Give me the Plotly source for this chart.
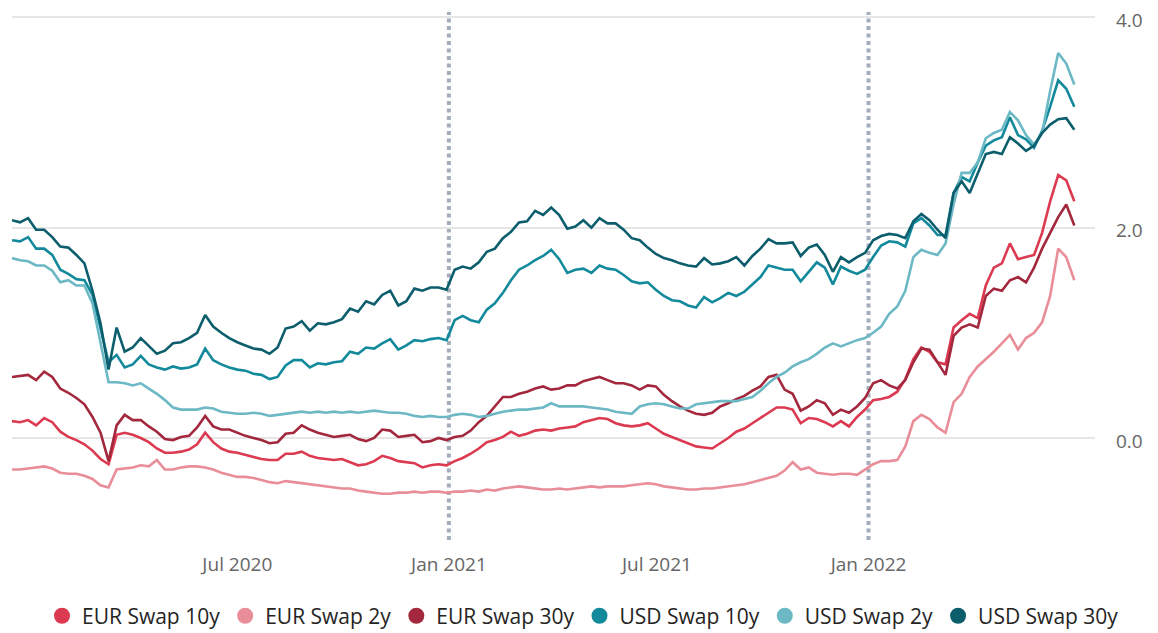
import pandas as pd
import plotly.graph_objects as go

dates = pd.date_range("2019-12-18", periods=133, freq="7D")

eur_10y = [
    0.16, 0.15, 0.17, 0.12, 0.19, 0.15, 0.06, 0.01, -0.02, -0.06,
    -0.12, -0.20, -0.25, 0.03, 0.05, 0.03, 0.00, -0.04, -0.10, -0.14,
    -0.14, -0.13, -0.11, -0.06, 0.05, -0.04, -0.10, -0.13, -0.14, -0.16,
    -0.18, -0.20, -0.21, -0.21, -0.15, -0.15, -0.13, -0.17, -0.19, -0.20,
    -0.21, -0.20, -0.23, -0.26, -0.25, -0.22, -0.17, -0.19, -0.22, -0.23,
    -0.24, -0.28, -0.26, -0.25, -0.26, -0.22, -0.19, -0.15, -0.10, -0.04,
    -0.02, 0.01, 0.06, 0.02, 0.04, 0.07, 0.08, 0.07, 0.09, 0.10,
    0.11, 0.15, 0.17, 0.19, 0.18, 0.14, 0.12, 0.11, 0.12, 0.14,
    0.09, 0.04, 0.01, -0.02, -0.05, -0.08, -0.09, -0.10, -0.05, 0.00,
    0.06, 0.09, 0.14, 0.19, 0.24, 0.29, 0.29, 0.27, 0.14, 0.19,
    0.18, 0.15, 0.11, 0.16, 0.11, 0.20, 0.27, 0.36, 0.37, 0.39,
    0.44, 0.56, 0.75, 0.86, 0.82, 0.72, 0.70, 1.05, 1.12, 1.18,
    1.14, 1.45, 1.62, 1.66, 1.85, 1.70, 1.72, 1.74, 1.95, 2.25,
    2.50, 2.45, 2.25,
]

eur_2y = [
    -0.30, -0.30, -0.29, -0.28, -0.27, -0.29, -0.33, -0.34, -0.34, -0.36,
    -0.39, -0.45, -0.47, -0.30, -0.29, -0.28, -0.26, -0.27, -0.21, -0.30,
    -0.30, -0.28, -0.27, -0.27, -0.28, -0.30, -0.33, -0.35, -0.37, -0.37,
    -0.38, -0.40, -0.42, -0.43, -0.41, -0.42, -0.43, -0.44, -0.45, -0.46,
    -0.47, -0.48, -0.48, -0.50, -0.51, -0.52, -0.53, -0.53, -0.52, -0.52,
    -0.51, -0.52, -0.51, -0.51, -0.52, -0.51, -0.51, -0.50, -0.51, -0.49,
    -0.50, -0.48, -0.47, -0.46, -0.47, -0.48, -0.49, -0.49, -0.48, -0.49,
    -0.48, -0.47, -0.46, -0.47, -0.46, -0.46, -0.46, -0.45, -0.44, -0.43,
    -0.44, -0.46, -0.47, -0.48, -0.49, -0.49, -0.48, -0.48, -0.47, -0.46,
    -0.45, -0.44, -0.42, -0.40, -0.38, -0.36, -0.31, -0.23, -0.30, -0.28,
    -0.33, -0.34, -0.35, -0.34, -0.34, -0.35, -0.30, -0.25, -0.22, -0.22,
    -0.21, -0.08, 0.16, 0.22, 0.18, 0.10, 0.05, 0.34, 0.42, 0.58,
    0.68, 0.75, 0.82, 0.90, 0.98, 0.84, 0.95, 1.00, 1.10, 1.35,
    1.80, 1.72, 1.50,
]

eur_30y = [
    0.58, 0.59, 0.60, 0.55, 0.63, 0.58, 0.47, 0.43, 0.38, 0.32,
    0.20, 0.05, -0.22, 0.12, 0.22, 0.17, 0.17, 0.11, 0.06, -0.01,
    -0.02, 0.01, 0.02, 0.10, 0.21, 0.11, 0.08, 0.08, 0.05, 0.02,
    0.00, -0.02, -0.05, -0.04, 0.04, 0.05, 0.12, 0.08, 0.05, 0.03,
    0.01, 0.02, 0.03, -0.01, -0.03, 0.00, 0.08, 0.07, 0.01, 0.02,
    0.03, -0.04, -0.03, 0.00, -0.02, 0.01, 0.02, 0.07, 0.15, 0.21,
    0.30, 0.39, 0.39, 0.42, 0.44, 0.47, 0.49, 0.46, 0.47, 0.50,
    0.50, 0.54, 0.56, 0.58, 0.55, 0.52, 0.52, 0.50, 0.46, 0.50,
    0.49, 0.41, 0.35, 0.30, 0.26, 0.23, 0.22, 0.24, 0.30, 0.33,
    0.37, 0.40, 0.45, 0.49, 0.58, 0.60, 0.46, 0.42, 0.26, 0.30,
    0.36, 0.33, 0.22, 0.27, 0.24, 0.30, 0.38, 0.52, 0.55, 0.50,
    0.47, 0.55, 0.72, 0.85, 0.84, 0.72, 0.60, 0.97, 1.05, 1.08,
    1.05, 1.35, 1.42, 1.40, 1.50, 1.53, 1.48, 1.62, 1.80, 1.95,
    2.10, 2.22, 2.02,
]

usd_10y = [
    1.88, 1.87, 1.91, 1.80, 1.80, 1.74, 1.60, 1.56, 1.51, 1.50,
    1.36, 1.05, 0.72, 0.79, 0.67, 0.70, 0.78, 0.70, 0.67, 0.65,
    0.68, 0.66, 0.67, 0.70, 0.85, 0.74, 0.70, 0.67, 0.65, 0.64,
    0.61, 0.60, 0.56, 0.58, 0.69, 0.74, 0.74, 0.67, 0.71, 0.70,
    0.72, 0.73, 0.82, 0.80, 0.86, 0.85, 0.90, 0.94, 0.84, 0.88,
    0.93, 0.92, 0.94, 0.95, 0.93, 1.12, 1.16, 1.12, 1.10, 1.22,
    1.28, 1.38, 1.50, 1.60, 1.64, 1.69, 1.73, 1.79, 1.70, 1.57,
    1.60, 1.61, 1.57, 1.64, 1.61, 1.60, 1.55, 1.49, 1.47, 1.48,
    1.41, 1.35, 1.31, 1.30, 1.26, 1.24, 1.34, 1.29, 1.33, 1.38,
    1.35, 1.39, 1.46, 1.53, 1.64, 1.62, 1.60, 1.60, 1.49, 1.58,
    1.67, 1.62, 1.46, 1.63, 1.59, 1.56, 1.60, 1.72, 1.83, 1.87,
    1.86, 1.82, 2.04, 2.09, 2.02, 1.93, 1.93, 2.33, 2.48, 2.44,
    2.62, 2.78, 2.83, 2.86, 3.05, 2.88, 2.84, 2.76, 2.92, 3.15,
    3.40, 3.32, 3.15,
]

usd_2y = [
    1.71, 1.69, 1.68, 1.64, 1.64, 1.59, 1.48, 1.50, 1.45, 1.45,
    1.28, 0.90, 0.53, 0.53, 0.52, 0.50, 0.52, 0.47, 0.42, 0.36,
    0.29, 0.27, 0.27, 0.27, 0.29, 0.28, 0.25, 0.24, 0.23, 0.23,
    0.24, 0.23, 0.21, 0.22, 0.23, 0.24, 0.25, 0.24, 0.25, 0.24,
    0.25, 0.24, 0.25, 0.24, 0.25, 0.26, 0.25, 0.24, 0.24, 0.23,
    0.21, 0.20, 0.21, 0.20, 0.20, 0.22, 0.23, 0.22, 0.20, 0.21,
    0.23, 0.25, 0.26, 0.27, 0.27, 0.28, 0.29, 0.33, 0.30, 0.30,
    0.30, 0.30, 0.29, 0.28, 0.27, 0.25, 0.24, 0.23, 0.30, 0.32,
    0.33, 0.32, 0.30, 0.28, 0.28, 0.32, 0.33, 0.34, 0.35, 0.35,
    0.35, 0.37, 0.39, 0.45, 0.52, 0.58, 0.62, 0.68, 0.72, 0.75,
    0.80, 0.86, 0.90, 0.87, 0.90, 0.93, 0.95, 1.00, 1.06, 1.18,
    1.25, 1.40, 1.72, 1.79, 1.76, 1.74, 1.85, 2.22, 2.52, 2.52,
    2.62, 2.85, 2.90, 2.93, 3.10, 3.02, 2.88, 2.79, 2.90, 3.30,
    3.66, 3.56, 3.36,
]

usd_30y = [
    2.07, 2.05, 2.09, 1.98, 1.98, 1.91, 1.82, 1.81, 1.74, 1.66,
    1.40, 1.09, 0.65, 1.05, 0.82, 0.86, 0.95, 0.87, 0.80, 0.83,
    0.90, 0.91, 0.95, 1.00, 1.17, 1.06, 1.00, 0.95, 0.91, 0.88,
    0.85, 0.84, 0.80, 0.86, 1.04, 1.06, 1.11, 1.02, 1.09, 1.08,
    1.10, 1.13, 1.23, 1.20, 1.30, 1.27, 1.36, 1.40, 1.26, 1.30,
    1.42, 1.40, 1.43, 1.43, 1.41, 1.60, 1.63, 1.61, 1.67, 1.77,
    1.80, 1.90, 1.96, 2.05, 2.06, 2.16, 2.12, 2.19, 2.12, 1.99,
    2.01, 2.07, 2.00, 2.09, 2.04, 2.04, 1.98, 1.90, 1.88, 1.81,
    1.75, 1.71, 1.69, 1.66, 1.64, 1.63, 1.71, 1.65, 1.66, 1.68,
    1.72, 1.64, 1.73, 1.80, 1.89, 1.85, 1.85, 1.86, 1.73, 1.81,
    1.84, 1.74, 1.58, 1.72, 1.67, 1.72, 1.76, 1.88, 1.92, 1.94,
    1.93, 1.90, 2.06, 2.13, 2.07, 1.98, 1.90, 2.33, 2.44, 2.33,
    2.52, 2.70, 2.72, 2.70, 2.86, 2.80, 2.73, 2.78, 2.90, 2.98,
    3.03, 3.04, 2.93,
]

series_names = ["EUR Swap 10y", "EUR Swap 2y", "EUR Swap 30y",
                "USD Swap 10y", "USD Swap 2y", "USD Swap 30y"]
series_values = [eur_10y, eur_2y, eur_30y, usd_10y, usd_2y, usd_30y]
colors = ["#dc3a50", "#e98d98", "#a3283d", "#128a9c", "#6cb8c5", "#0d5e6c"]

year_marks = ["2021-01-01", "2022-01-01"]
tick_dates = ["2020-07-01", "2021-01-01", "2021-07-01", "2022-01-01"]
tick_labels = ["Jul 2020", "Jan 2021", "Jul 2021", "Jan 2022"]

fig = go.Figure()

for name, vals, color in zip(series_names, series_values, colors):
    fig.add_trace(go.Scatter(x=dates, y=vals, mode="lines", name=name,
                             line=dict(color=color, width=2.6),
                             legendgroup=name, showlegend=False))
    # round legend marker
    fig.add_trace(go.Scatter(x=[None], y=[None], mode="markers", name=name,
                             marker=dict(color=color, size=19),
                             legendgroup=name))

for d in year_marks:
    fig.add_shape(type="line", x0=d, x1=d, xref="x", y0=0, y1=1, yref="paper",
                  line=dict(color="#a3adbc", width=4, dash="4px,3.5px"),
                  layer="below")

# page body adds an 8px offset, so the figure is 8px smaller than the window
fig.update_layout(
    width=1150, height=625,
    margin=dict(l=4, r=63, t=4, b=93, autoexpand=False),
    paper_bgcolor="white", plot_bgcolor="white",
    font=dict(family="Open Sans", color="#666666"),
    showlegend=True,
    legend=dict(orientation="h", xref="container", x=0.5, xanchor="center",
                yref="container", y=0.027, yanchor="middle",
                font=dict(size=21, color="#252423")),
    xaxis=dict(type="date", range=["2019-12-18", "2022-07-17"],
               tickvals=tick_dates, ticktext=tick_labels,
               showgrid=False, zeroline=False, showline=False,
               automargin=False,
               tickfont=dict(size=19, color="#666666"),
               ticklabelstandoff=11),
    yaxis=dict(side="right", range=[-0.97, 4.05], tickvals=[0, 2, 4],
               tickformat=".1f", showgrid=True, gridcolor="#e6e6e6",
               gridwidth=1.5, zeroline=False, showline=False,
               automargin=False, ticklabeloverflow="allow",
               ticklabelshift=3,
               tickfont=dict(size=19, color="#666666"),
               ticklabelstandoff=20),
)

fig.write_html("out.html")
